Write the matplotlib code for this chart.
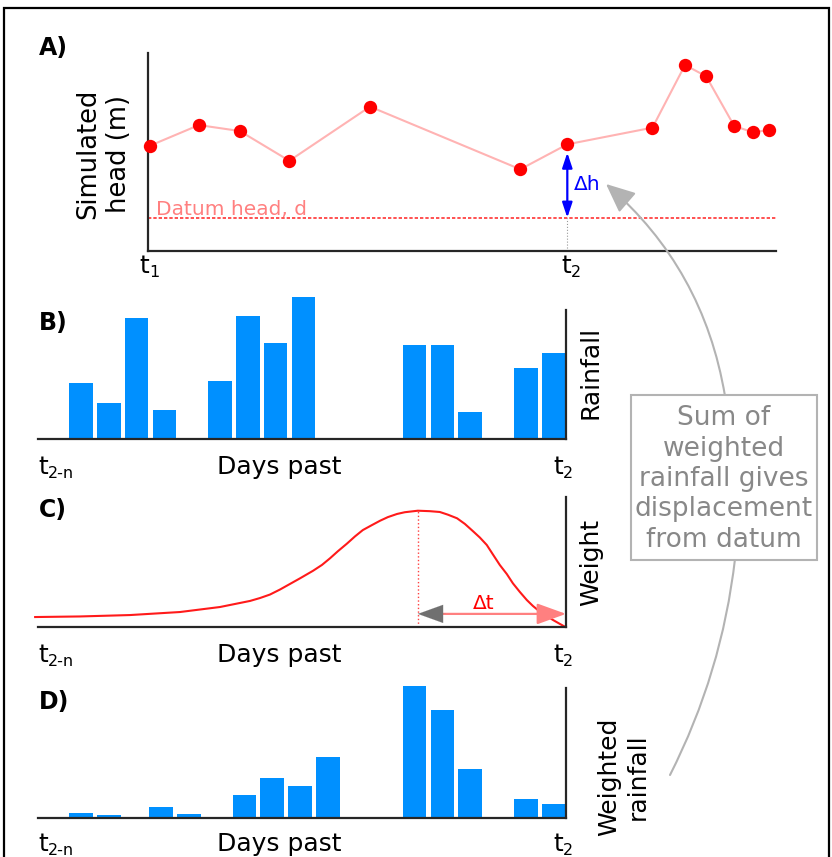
import matplotlib
matplotlib.use("Agg")
import matplotlib.pyplot as plt
from matplotlib.patches import Rectangle, FancyArrowPatch

plt.rcParams["font.family"] = ["DejaVu Sans"]

# ---------------- data ----------------
# Panel A: simulated head (arbitrary metres) at sample days
head_days = [0, 1.76, 3.23, 5.01, 7.91, 13.31, 15.0, 18.06, 19.23, 19.99, 21.0, 21.67, 22.26]
head_m = [5.31, 6.35, 6.05, 4.55, 7.28, 4.12, 5.38, 6.22, 9.38, 8.81, 6.30, 5.99, 6.10]
datum_head = 1.68
t1_day, t2_day = 0, 15.0

# Panel B: daily rainfall
rain_days = [0, 1, 2, 3, 5, 6, 7, 8, 12, 13, 14, 16, 17]
rain_mm = [5.66, 3.66, 12.16, 2.93, 5.80, 12.36, 9.66, 14.26, 9.40, 9.40, 2.73, 7.13, 8.66]

# Panel C: weighting curve
weight_days = [-1.65, -0.04, 1.76, 3.56, 5.0, 6.08, 6.44, 6.8, 7.16, 7.52, 7.88, 8.35, 8.67,
               8.96, 9.24, 9.57, 9.86, 10.14, 10.47, 10.76, 11.04, 11.37, 11.65, 12.12,
               12.55, 12.91, 13.2, 13.53, 13.81, 14.1, 14.35, 14.6, 14.82, 15.07, 15.32,
               15.54, 15.79, 16.04, 16.26, 16.51, 16.76, 16.98, 17.23, 17.41]
weight_vals = [0.088, 0.093, 0.105, 0.131, 0.174, 0.226, 0.251, 0.281, 0.324, 0.372, 0.42,
               0.485, 0.535, 0.592, 0.652, 0.718, 0.78, 0.834, 0.877, 0.914, 0.945, 0.972,
               0.987, 1.0, 0.996, 0.989, 0.966, 0.935, 0.887, 0.825, 0.77, 0.706, 0.625,
               0.534, 0.457, 0.377, 0.303, 0.234, 0.183, 0.134, 0.097, 0.063, 0.029, 0.005]
peak_day = 12.12

# Panel D: weighted rainfall
wrain_days = [0, 1, 2.88, 3.88, 5.88, 6.88, 7.88, 8.88, 12, 13, 14, 16, 17]
wrain = [0.44, 0.24, 1.07, 0.40, 2.24, 3.94, 3.20, 6.04, 13.17, 10.77, 4.84, 1.87, 1.34]

box_text = "Sum of\nweighted\nrainfall gives\ndisplacement\nfrom datum"

# ---------------- figure ----------------
W, H = 832, 857
fig = plt.figure(figsize=(W / 100, H / 100), dpi=100)
fig.patch.set_facecolor("white")


def fx(x):
    return x / W


def fy(y):
    return 1 - y / H


def add_ax(x0, y0, x1, y1):
    return fig.add_axes([x0 / W, 1 - y1 / H, (x1 - x0) / W, (y1 - y0) / H])


SPINE = "#262626"
BAR = "#0090ff"
DAY_XLIM = (-1.547, 17.45)


def style(ax, left=False, right=False):
    for s in ["top", "left", "right", "bottom"]:
        ax.spines[s].set_visible(False)
    ax.spines["bottom"].set_visible(True)
    if left:
        ax.spines["left"].set_visible(True)
    if right:
        ax.spines["right"].set_visible(True)
    for s in ax.spines.values():
        s.set_color(SPINE)
        s.set_linewidth(1.6)
    ax.set_xticks([])
    ax.set_yticks([])
    ax.patch.set_alpha(0)


def tlab(ax, x, sub, left_off, dy):
    tr = ax.get_xaxis_transform()
    ax.annotate("t", xy=(x, 0), xycoords=tr, xytext=(left_off, -dy),
                textcoords="offset points", ha="left", va="baseline", fontsize=18,
                annotation_clip=False)
    ax.annotate(sub, xy=(x, 0), xycoords=tr, xytext=(left_off + 7.2, -dy - 2.5),
                textcoords="offset points", ha="left", va="baseline", fontsize=11.5,
                annotation_clip=False)


# ---- Panel A ----
axA = add_ax(147.7, 52.7, 776, 251)
style(axA, left=True)
axA.set_xlim(-0.08, 22.5)
axA.set_ylim(0, 10)
axA.plot(head_days, head_m, color="#ffb3b3", lw=1.5, zorder=2)
axA.plot(head_days, head_m, "o", color="#ff0000", ms=9.6, mec="none", zorder=3, clip_on=False)
axA.axhline(datum_head, color="#ff3333", lw=1.2, ls=(0, (2, 1.2)), zorder=1)
axA.annotate("Datum head, d", xy=(0.22, datum_head), xytext=(0, 2.2), textcoords="offset points",
             ha="left", va="baseline", fontsize=14.5, color="#ff8080")
axA.plot([t2_day, t2_day], [0, datum_head], color="#999999", lw=0.8, ls=":")
idx2 = head_days.index(t2_day)
axA.annotate("", xy=(t2_day, head_m[idx2]), xytext=(t2_day, datum_head),
             arrowprops=dict(arrowstyle="<|-|>,head_length=0.9,head_width=0.3", color="#0000ff",
                             lw=1.6, shrinkA=0, shrinkB=6, mutation_scale=10))
axA.text(15.25, 3.08, "Δh", color="#0000ff", fontsize=14.5, ha="left", va="baseline")
tlab(axA, t1_day, "1", -7.5, 16)
tlab(axA, t2_day, "2", -4.5, 16)
fig.text(fx(103.5), fy(154), "Simulated\nhead (m)", rotation=90, ha="center", va="center",
         fontsize=18.5, multialignment="center", linespacing=1.2)

# ---- Panel B ----
axB = add_ax(38, 310, 566, 439.3)
style(axB, right=True)
axB.set_xlim(*DAY_XLIM)
axB.set_ylim(0, 12.93)
axB.bar(rain_days, rain_mm, width=0.85, color=BAR, clip_on=False, zorder=2)

# ---- Panel C ----
axC = add_ax(38, 497.3, 566, 627.3)
style(axC, right=True)
axC.set_xlim(*DAY_XLIM)
axC.set_ylim(0, 1.115)
axC.plot(weight_days, weight_vals, color="#ff1a1a", lw=1.5, clip_on=False,
         solid_joinstyle="round")
axC.plot([peak_day, peak_day], [0, max(weight_vals)], color="#ff4040", lw=1.0, ls=":")
ay = 0.115
axC.annotate("", xy=(DAY_XLIM[1], ay), xytext=(peak_day + 0.5, ay),
             arrowprops=dict(arrowstyle="-|>,head_length=1.8,head_width=0.65", color="#ff8080",
                             lw=1.6, shrinkA=0, shrinkB=0, mutation_scale=10))
axC.annotate("", xy=(peak_day, ay), xytext=(peak_day + 1.0, ay),
             arrowprops=dict(arrowstyle="-|>,head_length=1.8,head_width=0.65", color="#707070",
                             lw=0.1, shrinkA=0, shrinkB=0, mutation_scale=10))
axC.text(14.1, 0.157, "Δt", color="#ff0000", fontsize=14.5, ha="left", va="baseline")

# ---- Panel D ----
axD = add_ax(38, 688, 566, 817.7)
style(axD, right=True)
axD.set_xlim(*DAY_XLIM)
axD.set_ylim(0, 12.97)
axD.bar(wrain_days, wrain, width=0.85, color=BAR, clip_on=False, zorder=2)

for ax, dy in ((axB, 25.2), (axC, 25.2), (axD, 24.2)):
    tlab(ax, DAY_XLIM[0], "2-n", 0, dy)
    tlab(ax, DAY_XLIM[1], "2", -9.4, dy)
    ax.annotate("Days past", xy=(0.456, 0), xycoords="axes fraction", xytext=(0, -dy),
                textcoords="offset points", ha="center", va="baseline", fontsize=18,
                annotation_clip=False)

# right-hand labels
fig.text(fx(590), fy(372.5), "Rainfall", rotation=90, ha="center", va="center", fontsize=18)
fig.text(fx(591), fy(562.5), "Weight", rotation=90, ha="center", va="center", fontsize=18)
fig.text(fx(623.5), fy(776.5), "Weighted\nrainfall", rotation=90, ha="center", va="center",
         fontsize=18, multialignment="center", linespacing=1.2)

# panel letters
for lab, yb in [("A)", 55), ("B)", 330), ("C)", 517), ("D)", 709)]:
    fig.text(fx(39), fy(yb), lab, fontsize=17, fontweight="bold", ha="left", va="baseline")

# curved grey arrows
arr = FancyArrowPatch(posA=(fx(725), fy(396)), posB=(fx(606), fy(184)), transform=fig.transFigure,
                      connectionstyle="arc3,rad=0.18",
                      arrowstyle="-|>,head_length=1.8,head_width=0.8", mutation_scale=10,
                      color="#b3b3b3", lw=1.5, shrinkA=0, shrinkB=0)
fig.add_artist(arr)
arr2 = FancyArrowPatch(posA=(fx(670), fy(775)), posB=(fx(735), fy(559)), transform=fig.transFigure,
                       connectionstyle="arc3,rad=0.09", arrowstyle="-", color="#b3b3b3", lw=1.5,
                       shrinkA=0, shrinkB=0)
fig.add_artist(arr2)

# annotation box
fig.add_artist(Rectangle((fx(630.7), fy(560)), (817.3 - 630.7) / W, (560 - 395) / H,
                         transform=fig.transFigure, facecolor="white", edgecolor="#b3b3b3", lw=1.5))
fig.text(fx(724), fy(479), box_text, ha="center", va="center", fontsize=19, color="#888888",
         multialignment="center", linespacing=1.22)

# figure border
fig.add_artist(Rectangle((fx(4), fy(870)), (829 - 4) / W, (870 - 8) / H, transform=fig.transFigure,
                         fill=False, edgecolor="black", lw=1.6))

fig.savefig("out.png", dpi=100, facecolor="white")
